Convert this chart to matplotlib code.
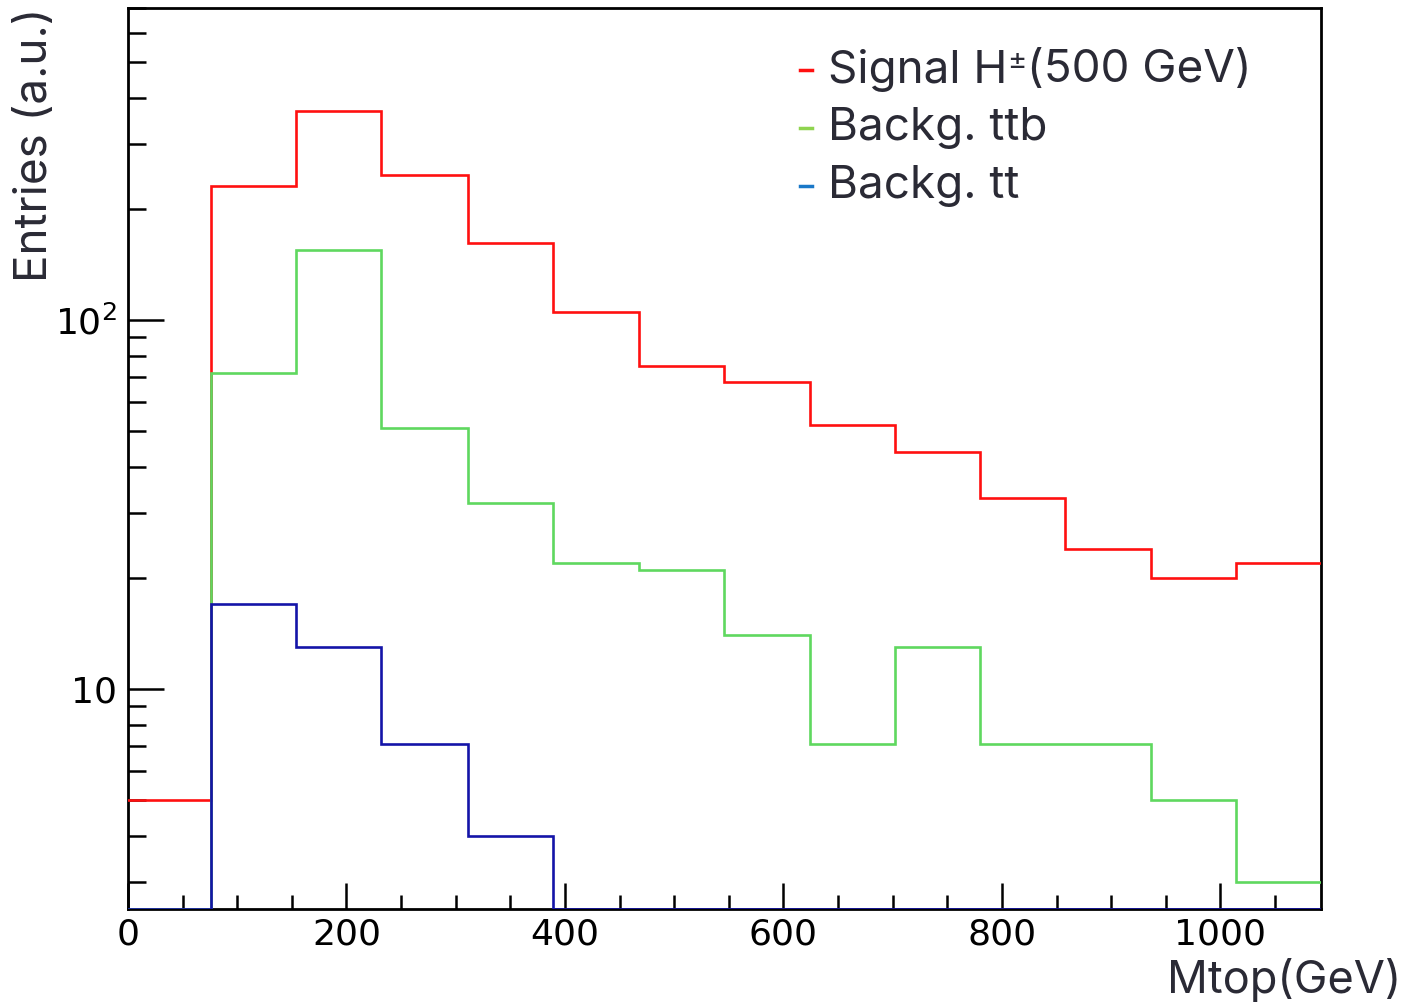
#!/usr/bin/env python3
# -*- coding: utf-8 -*-
"""
Distribucion de Mtop: senal H+- (500 GeV) y fondos, escala log.
"""

import numpy as np
import matplotlib
matplotlib.use('Agg')
import matplotlib.pyplot as plt
from matplotlib.lines import Line2D
from matplotlib.ticker import FixedLocator, NullFormatter

plt.rc('font', family=['DejaVu Sans'])

# Bordes de los bins (GeV)
edges = [-2, 76, 154, 232, 311, 389, 468, 546, 624, 702, 780, 858, 936, 1014, 1092]

# Contenidos (a.u.)
signal = [5, 230, 368, 247, 162, 105, 75, 68, 52, 44, 33, 24, 20, 22]
backg_ttb = [0, 72, 155, 51, 32, 22, 21, 14, 7.1, 13, 7.1, 7.1, 5, 3]
backg_tt = [0, 17, 13, 7.1, 4, 0, 0, 0, 0, 0, 0, 0, 0, 0]

labels = [('Signal H', u'\u00b1', '(500 GeV)'), ('Backg. ttb',), ('Backg. tt',)]
hist_colors = ['#ff1010', '#5fd85f', '#1414a8']
leg_colors = ['#ff1010', '#8fd44f', '#1a78c8']
txt_color = '#2a2a35'
txt_font = ['Inter', 'Liberation Sans', 'DejaVu Sans']

ymin, ymax = 2.54, 700

fig = plt.figure(figsize=(14.07, 10.06), dpi=100)
ax = fig.add_axes([128/1407, 1 - 909/1006, (1321-128)/1407, (909-8)/1006])

for vals, c in zip([signal, backg_ttb, backg_tt], hist_colors):
    v = np.clip(np.array(vals, dtype=float), ymin, None)
    ax.stairs(v, edges, baseline=None, color=c, lw=1.9, zorder=3)

ax.set_yscale('log')
ax.set_xlim(0, 1092)
ax.set_ylim(ymin, ymax)

# Ticks estilo ROOT (hacia adentro)
ax.xaxis.set_major_locator(FixedLocator([0, 200, 400, 600, 800, 1000]))
ax.xaxis.set_minor_locator(FixedLocator([v for v in range(50, 1092, 50) if v % 200]))
ax.yaxis.set_major_locator(FixedLocator([10, 100]))
ax.yaxis.set_minor_locator(FixedLocator([3, 4, 5, 6, 7, 8, 9, 20, 30, 40, 50, 60, 70, 80, 90,
                                         200, 300, 400, 500, 600, 700]))
ax.yaxis.set_minor_formatter(NullFormatter())
ax.set_yticklabels(['10', r'10$^{2}$'])
ax.tick_params(axis='x', which='major', direction='in', length=19, width=1.8,
               labelsize=26, pad=6)
ax.tick_params(axis='x', which='minor', direction='in', length=10, width=1.8)
ax.tick_params(axis='y', which='major', direction='in', length=26, width=1.8,
               labelsize=26, pad=8)
ax.tick_params(axis='y', which='minor', direction='in', length=13, width=1.8)
for s in ax.spines.values():
    s.set_linewidth(2.0)

fig.text(35/1407, 1 - 8/1006, 'Entries (a.u.)', rotation=90, ha='center', va='top',
         fontsize=33, color=txt_color, family=txt_font)
fig.text(1401/1407, 1 - 980/1006, 'Mtop(GeV)', ha='right', va='center',
         fontsize=32.5, color=txt_color, family=txt_font)

# Leyenda
fig.canvas.draw()
r = fig.canvas.get_renderer()
for i, (parts, c) in enumerate(zip(labels, leg_colors)):
    yy = 1 - (70 + 58*i)/1006
    fig.add_artist(Line2D([800/1407, 812/1407], [yy, yy], color=c, lw=2.5,
                          transform=fig.transFigure))
    x0 = 828/1407
    for p in parts:
        small = p == u'\u00b1'
        t = fig.text(x0, yy + (8/1006 if small else 0), p, ha='left', va='center',
                     fontsize=21 if small else 33, color=txt_color, family=txt_font)
        bb = t.get_window_extent(renderer=r)
        x0 += bb.width / 1407

plt.savefig('out.png', dpi=100)
